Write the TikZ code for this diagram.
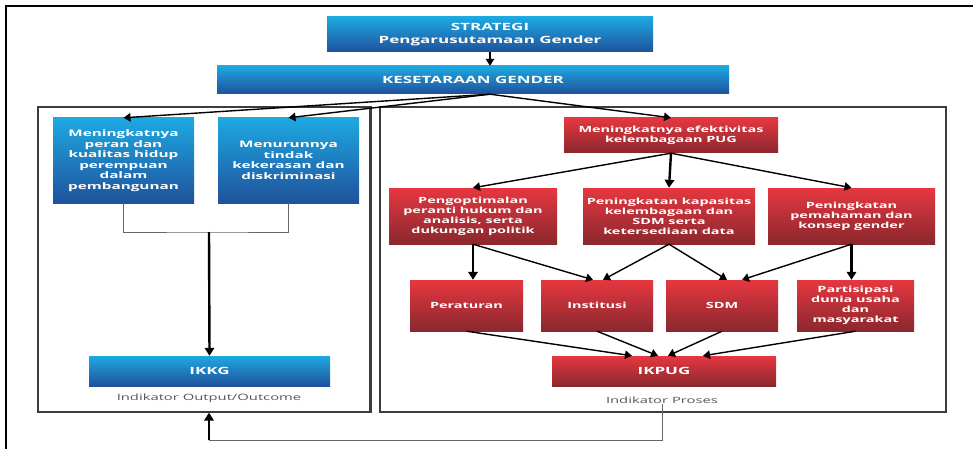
\documentclass[tikz,border=0pt]{standalone}
\usepackage{fontspec}
\newfontfamily\bx[FakeStretch=1.7]{Open Sans}
\usetikzlibrary{arrows.meta,calc}
\definecolor{blT}{RGB}{30,168,225}
\definecolor{blB}{RGB}{31,82,156}
\definecolor{rdT}{RGB}{230,55,64}
\definecolor{rdB}{RGB}{138,40,46}
\definecolor{lblgray}{RGB}{85,85,85}
\definecolor{panelgray}{RGB}{60,60,60}
\tikzset{
  bluebox/.style={top color=blT, bottom color=blB, draw=none, text=white, align=center, inner sep=0pt,
    font=\bx\bfseries\fontsize{9}{10.5}\selectfont},
  redbox/.style={top color=rdT, bottom color=rdB, draw=none, text=white, align=center, inner sep=0pt,
    font=\bx\bfseries\fontsize{8.5}{10}\selectfont},
  bigfont/.style={font=\bx\bfseries\fontsize{10}{12.5}\selectfont},
  lbl/.style={text=lblgray, inner sep=0pt, font=\bx\fontsize{8.7}{9.5}\selectfont},
  panel/.style={draw=panelgray, line width=1.3pt, inner sep=0pt},
  arr/.style={-{Triangle[length=7pt,width=8.5pt]}, line width=1.4pt},
  bigarr/.style={-{Triangle[length=8pt,width=9.5pt]}, line width=2.4pt},
  conn/.style={draw=gray!80!black, line width=0.8pt},
}
\begin{document}
\begin{tikzpicture}[x=1pt,y=-1pt]
\useasboundingbox (0,0) rectangle (973,449);
% outer frame
\draw[line width=2.5pt] (6,449) -- (6,6) -- (973,6);
% panels
\node[panel, minimum width=332, minimum height=305] (lp) at (204,259.5) {};
\draw[line width=3pt, panelgray] (lp.north east) -- (lp.south east);
\node[panel, minimum width=566, minimum height=305] (rp) at (663,259.5) {};
% top
\node[bluebox, bigfont, minimum width=326, minimum height=35] (strat) at (490,34.5) {STRATEGI\\Pengarusutamaan Gender};
\node[bluebox, bigfont, minimum width=512, minimum height=28] (kes) at (473,80) {KESETARAAN GENDER};
% left panel
\node[bluebox, minimum width=141, minimum height=85] (b1) at (123.5,160.5) {Meningkatnya\\peran dan\\kualitas hidup\\perempuan\\dalam\\pembangunan};
\node[bluebox, minimum width=141, minimum height=85] (b2) at (288.5,160.5) {Menurunnya\\tindak\\kekerasan dan\\diskriminasi};
\node[bluebox, bigfont, minimum width=241, minimum height=30] (ikkg) at (209.5,371) {IKKG};
\node[lbl] (out) at (209,398) {Indikator Output/Outcome};
% right panel
\node[redbox, minimum width=214, minimum height=35] (pug) at (671,135.5) {Meningkatnya efektivitas\\kelembagaan PUG};
\node[redbox, minimum width=168, minimum height=56] (A) at (473,216) {Pengoptimalan\\peranti hukum dan\\analisis, serta\\dukungan politik};
\node[redbox, minimum width=172, minimum height=56] (B) at (669,216) {Peningkatan kapasitas\\kelembagaan dan\\SDM serta\\ketersediaan data};
\node[redbox, minimum width=167, minimum height=56] (C) at (851.5,216) {Peningkatan\\pemahaman dan\\konsep gender};
\node[redbox, minimum width=113, minimum height=51] (per) at (466.5,305.5) {Peraturan};
\node[redbox, minimum width=112, minimum height=51] (ins) at (597,305.5) {Institusi};
\node[redbox, minimum width=112, minimum height=51] (sdm) at (722,305.5) {SDM};
\node[redbox, minimum width=117, minimum height=51] (par) at (855.5,305.5) {Partisipasi\\dunia usaha\\dan\\masyarakat};
\node[redbox, bigfont, minimum width=224, minimum height=30] (ikpug) at (664,371) {IKPUG};
\node[lbl] (proc) at (662,400) {Indikator Proses};
% connectors top
\draw[arr] (strat.south) -- (strat.south |- kes.north);
\coordinate (kesout) at (kes.south -| strat.south);
\draw[arr] (kesout) -- (b1.north);
\draw[arr] (kesout) -- (b2.north);
\draw[arr] (kesout) -- (pug.north);
% left
\coordinate (join) at (209,232);
\draw[conn] (b1.south) |- (join) -| (b2.south);
\draw[bigarr] (join) -- (ikkg.north);
% right
\draw[arr] (pug.south) -- (A.north);
\draw[bigarr] (pug.south) -- (B.north);
\draw[arr] (pug.south) -- (C.north);
\draw[bigarr] (A.south) -- (A.south |- per.north);
\draw[arr] (A.south) -- ([xshift=-4pt]ins.north);
\draw[arr] (B.south) -- ([xshift=6pt]ins.north);
\draw[arr] (B.south) -- ([xshift=5pt]sdm.north);
\draw[arr] (C.south) -- ([xshift=20pt]sdm.north);
\draw[bigarr] (C.south) -- (C.south |- par.north);
\draw[arr] (per.south) -- ([xshift=-32pt]ikpug.north);
\draw[arr] (ins.south) -- ([xshift=-6pt]ikpug.north);
\draw[arr] (sdm.south) -- ([xshift=4pt]ikpug.north);
\draw[arr] (par.south) -- ([xshift=39pt]ikpug.north);
% feedback
\coordinate (fbL) at (209,440);
\draw[conn] (proc.south) |- (fbL);
\draw[bigarr] (fbL) -- (fbL |- lp.south);
\end{tikzpicture}
\end{document}
